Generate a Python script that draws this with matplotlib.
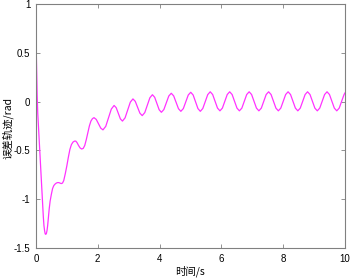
import matplotlib
matplotlib.use('Agg')
import matplotlib.pyplot as plt

# error trajectory (time in s, error in rad)
t = [0.00, 0.02, 0.04, 0.06, 0.08, 0.10, 0.12, 0.14, 0.16, 0.18,
     0.20, 0.22, 0.24, 0.26, 0.28, 0.30, 0.32, 0.34, 0.36, 0.38,
     0.40, 0.43, 0.46, 0.50, 0.54, 0.58, 0.62, 0.66, 0.70, 0.74,
     0.78, 0.82, 0.86, 0.90, 0.95, 1.00, 1.05, 1.10, 1.15, 1.20,
     1.25, 1.29, 1.33, 1.38, 1.43, 1.48, 1.53, 1.58, 1.63, 1.68,
     1.73, 1.78, 1.83, 1.88, 1.953, 2.025, 2.098, 2.17, 2.26, 2.35,
     2.44, 2.53, 2.598, 2.665, 2.733, 2.80, 2.885, 2.97, 3.055, 3.14,
     3.215, 3.29, 3.365, 3.44, 3.523, 3.605, 3.688, 3.77, 3.843, 3.915,
     3.988, 4.06, 4.14, 4.22, 4.30, 4.38, 4.458, 4.535, 4.613, 4.69,
     4.77, 4.85, 4.93, 5.01, 5.088, 5.165, 5.243, 5.32, 5.40, 5.48,
     5.56, 5.64, 5.719, 5.798, 5.876, 5.955, 6.034, 6.113, 6.191, 6.27,
     6.349, 6.428, 6.506, 6.585, 6.664, 6.743, 6.821, 6.90, 6.979, 7.058,
     7.136, 7.215, 7.294, 7.373, 7.451, 7.53, 7.609, 7.688, 7.766, 7.845,
     7.924, 8.003, 8.081, 8.16, 8.239, 8.318, 8.396, 8.475, 8.554, 8.633,
     8.711, 8.79, 8.869, 8.948, 9.026, 9.105, 9.184, 9.263, 9.341, 9.42,
     9.499, 9.578, 9.656, 9.735, 9.814, 9.893, 9.971, 10.00]
err = [0.70, 0.36, 0.07, -0.12, -0.24, -0.35, -0.46, -0.58, -0.70, -0.82,
       -0.95, -1.07, -1.18, -1.27, -1.32, -1.355, -1.36, -1.35, -1.32, -1.27,
       -1.20, -1.10, -1.02, -0.95, -0.89, -0.86, -0.845, -0.835, -0.83, -0.83,
       -0.835, -0.84, -0.835, -0.81, -0.74, -0.66, -0.57, -0.49, -0.44, -0.415,
       -0.405, -0.405, -0.42, -0.45, -0.475, -0.486, -0.48, -0.45, -0.39, -0.32,
       -0.25, -0.20, -0.175, -0.165, -0.183, -0.228, -0.272, -0.29, -0.254, -0.165,
       -0.077, -0.04, -0.063, -0.12, -0.177, -0.20, -0.167, -0.087, -0.006, 0.027,
       0.002, -0.059, -0.119, -0.144, -0.113, -0.037, 0.039, 0.07, 0.044, -0.02,
       -0.084, -0.11, -0.082, -0.013, 0.057, 0.085, 0.058, -0.008, -0.073, -0.10,
       -0.072, -0.003, 0.067, 0.095, 0.067, -0.003, -0.072, -0.10, -0.071, 0.0,
       0.071, 0.10, 0.072, 0.003, -0.067, -0.095, -0.067, 0.003, 0.072, 0.10,
       0.072, 0.003, -0.067, -0.095, -0.067, 0.003, 0.072, 0.10, 0.072, 0.003,
       -0.067, -0.095, -0.067, 0.003, 0.072, 0.10, 0.072, 0.003, -0.067, -0.095,
       -0.067, 0.003, 0.072, 0.10, 0.072, 0.003, -0.067, -0.095, -0.067, 0.003,
       0.072, 0.10, 0.072, 0.003, -0.067, -0.095, -0.067, 0.003, 0.072, 0.10,
       0.072, 0.003, -0.067, -0.095, -0.067, 0.003, 0.072, 0.088]

xticks = [0, 2, 4, 6, 8, 10]
yticks = [-1.5, -1, -0.5, 0, 0.5, 1]
ytick_labels = ['-1.5', '-1', '-0.5', '0', '0.5', '1']

plt.rcParams['font.family'] = ['Liberation Sans', 'DejaVu Sans']

fig = plt.figure(figsize=(3.52, 2.79), dpi=100)
ax = fig.add_axes([0.102, 0.111, 0.878, 0.875])

ax.plot(t, err, color='#ff33ff', lw=0.9)

ax.set_xlim(0, 10)
ax.set_ylim(-1.5, 1)
ax.set_xticks(xticks)
ax.set_xticklabels([str(v) for v in xticks])
ax.set_yticks(yticks)
ax.set_yticklabels(ytick_labels)

edge = '#808080'
for s in ax.spines.values():
    s.set_color(edge)
    s.set_linewidth(0.8)
ax.tick_params(direction='in', length=3, width=0.6, color=edge,
               labelsize=7, pad=4, top=True, right=True)

cjk = ['Noto Sans CJK SC', 'DejaVu Sans']
ax.set_xlabel('时间/s', fontsize=7.5, family=cjk)
ax.set_ylabel('误差轨迹/rad', fontsize=7.5, family=cjk)
ax.xaxis.set_label_coords(0.5, -0.07)
ax.yaxis.set_label_coords(-0.072, 0.49)

fig.savefig('out.png', dpi=100)
